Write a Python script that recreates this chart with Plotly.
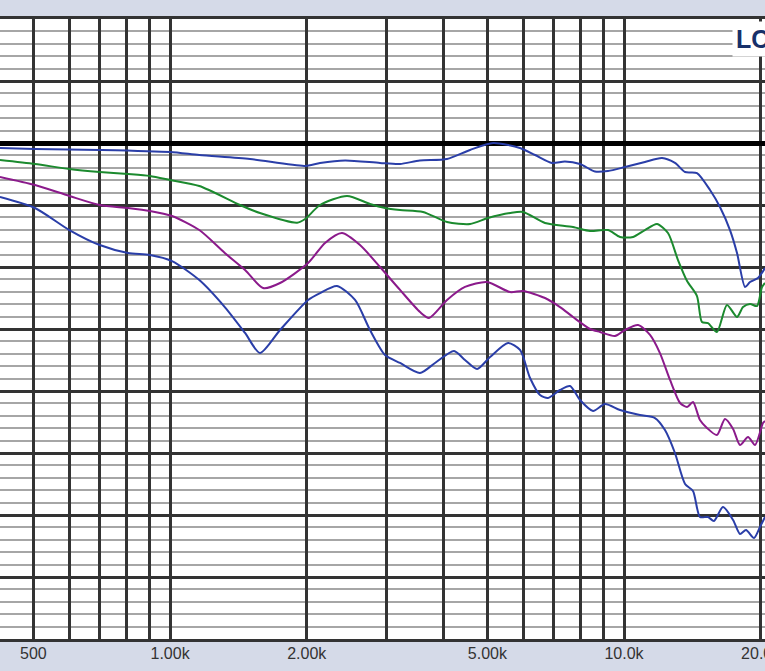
import plotly.graph_objects as go

# ---- data (frequency in Hz, level in dB) ----
f_top = [422, 504, 700, 1000, 1160, 1500, 1980, 2140, 2430, 2900, 3210, 3550, 4075, 4580,
         5150, 5900, 6370, 6940, 7410, 8000, 8630, 9220, 10050, 11120, 12130, 12950, 13630,
         14480, 15470, 16270, 17120, 17740, 18480, 18950, 19730, 20450]
db_top = [-0.40, -0.48, -0.56, -0.73, -0.97, -1.29, -1.85, -1.61, -1.41, -1.61, -1.69, -1.41,
          -1.29, -0.56, 0.0, -0.40, -0.97, -1.61, -1.49, -1.69, -2.30, -2.26, -1.94, -1.53,
          -1.21, -1.61, -2.34, -2.42, -3.79, -5.16, -7.02, -8.87, -11.61, -11.21, -10.89, -10.08]

f_green = [422, 504, 600, 700, 808, 903, 1000, 1160, 1426, 1578, 1905, 1984, 2140, 2454, 2757,
           2976, 3211, 3608, 4075, 4580, 5017, 5609, 5992, 6699, 7720, 8418, 9222, 9800, 10470,
           11120, 11820, 12500, 13150, 13770, 14480, 14850, 15310, 16020, 16860, 17740, 18290,
           18950, 19630, 20140, 20450]
db_green = [-1.37, -1.69, -2.10, -2.34, -2.50, -2.66, -2.98, -3.47, -5.00, -5.65, -6.43, -6.13,
            -5.00, -4.27, -4.92, -5.24, -5.40, -5.56, -6.37, -6.53, -6.05, -5.65, -5.56, -6.45,
            -6.77, -7.10, -7.02, -7.58, -7.58, -7.02, -6.53, -7.26, -9.44, -11.13, -12.34,
            -14.44, -14.52, -15.24, -13.06, -14.03, -13.23, -12.98, -13.15, -11.61, -11.29]

f_purple = [422, 504, 600, 700, 808, 903, 1010, 1160, 1320, 1463, 1603, 1747, 2014, 2195, 2392,
            2621, 2901, 3211, 3553, 3720, 4075, 4464, 4992, 5609, 5992, 6699, 7228, 7720, 8418,
            8855, 9554, 10050, 10740, 11410, 12000, 12630, 13290, 13770, 14190, 14700, 15230,
            16020, 16690, 17390, 18010, 18760, 19440, 20240, 20450]
db_purple = [-2.74, -3.39, -4.27, -5.00, -5.24, -5.48, -5.89, -7.02, -8.87, -10.24, -11.69,
             -11.29, -9.68, -8.06, -7.26, -8.23, -10.00, -11.85, -13.63, -14.11, -12.66, -11.61,
             -11.21, -12.02, -11.94, -12.50, -13.23, -14.03, -15.00, -15.24, -15.56, -15.08,
             -14.68, -15.48, -16.94, -19.11, -20.97, -21.29, -20.89, -22.34, -22.98, -23.55,
             -22.26, -23.06, -24.35, -23.71, -24.35, -22.58, -22.42]

f_bottom = [422, 504, 600, 700, 808, 903, 1010, 1160, 1320, 1463, 1578, 1747, 2014, 2140, 2332,
            2556, 2757, 2976, 3211, 3553, 3834, 4222, 4464, 4746, 5069, 5553, 5902, 6209, 6531,
            6802, 7228, 7604, 8000, 8546, 9082, 9800, 10840, 11700, 12310, 12950, 13630, 14190,
            14700, 15310, 15780, 16520, 17390, 18010, 18570, 19340, 19930, 20450]
db_bottom = [-4.35, -5.24, -7.02, -8.23, -8.87, -9.03, -9.52, -11.05, -13.23, -15.32, -16.94,
             -15.08, -12.66, -12.10, -11.53, -12.66, -15.08, -17.10, -17.74, -18.55, -17.74,
             -16.77, -17.50, -18.23, -17.26, -16.13, -16.69, -18.95, -20.32, -20.56, -19.92,
             -19.60, -20.73, -21.61, -21.05, -21.53, -21.94, -22.18, -23.15, -25.00, -27.50,
             -28.06, -30.16, -30.16, -30.48, -29.35, -30.40, -31.53, -31.21, -31.85, -30.97,
             -30.16]

tick_vals = [500, 600, 700, 800, 900, 1000, 2000, 3000, 4000, 5000, 6000, 7000, 8000, 9000,
             10000, 20000]
tick_text = ["500", "", "", "", "", "1.00k", "2.00k", "", "", "5.00k", "", "", "", "",
             "10.0k", "20.0k"]

BLUE = "#2a3ea8"
GREEN = "#1b8a2e"
PURPLE = "#8b1a8b"

fig = go.Figure()
for fx, dy, col in [(f_top, db_top, BLUE), (f_green, db_green, GREEN),
                    (f_purple, db_purple, PURPLE), (f_bottom, db_bottom, BLUE)]:
    fig.add_trace(go.Scatter(x=fx, y=dy, mode="lines", cliponaxis=True,
                             line=dict(color=col, width=2, shape="spline", smoothing=0.7),
                             showlegend=False, hoverinfo="skip"))

fig.update_xaxes(type="log", range=[2.6254, 4.3106], tickmode="array",
                 tickvals=tick_vals, ticktext=tick_text, automargin=False,
                 ticklabeloverflow="allow", ticklabelstandoff=-2,
                 showgrid=True, gridcolor="#333333", gridwidth=2.5,
                 showline=True, mirror=True, linecolor="#333333", linewidth=2.5,
                 ticks="", tickfont=dict(family="Liberation Sans, Arial", size=16, color="#333333"),
                 zeroline=False)
fig.update_yaxes(range=[-40, 10], dtick=5, tick0=0, showticklabels=False, automargin=False,
                 showgrid=True, gridcolor="#333333", gridwidth=2.5,
                 minor=dict(dtick=1, showgrid=True, gridcolor="#a6a6a6", gridwidth=2),
                 zeroline=True, zerolinecolor="#000000", zerolinewidth=4.5,
                 showline=False, ticks="")

fig.add_annotation(xref="paper", yref="paper", x=(732 / 765), y=(639 - 39) / 620,
                   xanchor="left", yanchor="middle", text="<b>LC</b>", showarrow=False,
                   font=dict(family="Liberation Sans, Arial", size=25, color="#17306a"),
                   bgcolor="white", borderpad=3)

fig.update_layout(width=765, height=671, margin=dict(l=0, r=0, t=19, b=32, pad=0),
                  paper_bgcolor="#d5dae8", plot_bgcolor="white")

fig.write_html("out.html", config={"displayModeBar": False},
               post_script="document.body.style.margin='0';document.body.style.overflow='hidden';")
